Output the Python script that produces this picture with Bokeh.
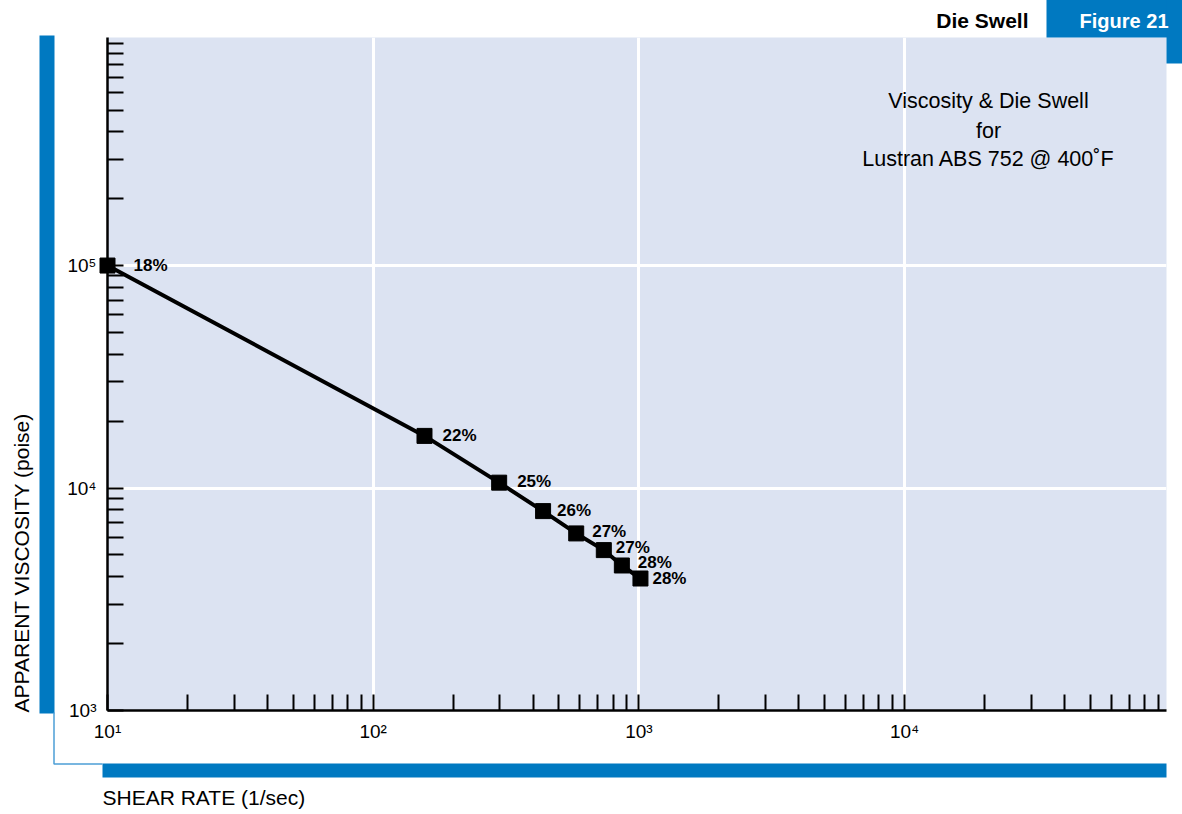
import math
from bokeh.plotting import figure
from bokeh.models import (FixedTicker, Range1d, LabelSet, ColumnDataSource, LinearScale)
from bokeh.core.properties import value
from bokeh.embed import file_html
from bokeh.resources import INLINE

# ---------------- data ----------------
shear_rate = [10, 156, 298, 436, 581, 738, 863, 1014]          # 1/sec
viscosity = [100000, 17150, 10570, 7875, 6250, 5260, 4485, 3920]  # poise
die_swell = ["18%", "22%", "25%", "26%", "27%", "27%", "28%", "28%"]

x_major = [10, 100, 1000, 10000]
x_tick_labels = ["10¹", "10²", "10³", "10⁴"]
y_major = [1000, 10000, 100000]
y_tick_labels = ["10³", "10⁴", "10⁵"]
x_grid = [100, 1000, 10000]
y_grid = [10000, 100000]

# ---------------- layout / style ----------------
BLUE = "#0079C1"
LIGHT_BLUE = "#4C9FD6"
BG = "#DCE3F2"
FONT = "Liberation Sans"
W, H = 1182, 814
FL, FR, FT, FB = 107, 1166, 37, 710   # frame edges in page pixels

label_dx = [26, 18, 18, 14, 16, 12, 16, 12]
label_dy = [0, 0, 1, 1, 1.5, 3, 2.5, 0.5]

p = figure(width=W, height=H, x_axis_type="log", y_axis_type="log",
           x_range=Range1d(10, 10 ** 4.986), y_range=Range1d(1000, 10 ** 6.025),
           output_backend="svg", toolbar_location=None,
           min_border_left=FL, min_border_right=W - FR, min_border_top=FT,
           min_border_bottom=H - FB,
           background_fill_color=BG, border_fill_color="white",
           outline_line_color=None)

# a pixel coordinate system for the page decorations
p.extra_x_ranges = {"px": Range1d(FL, FR)}
p.extra_y_ranges = {"py": Range1d(FB, FT)}
p.extra_x_scales = {"px": LinearScale()}
p.extra_y_scales = {"py": LinearScale()}
PX = dict(x_range_name="px", y_range_name="py", level="overlay")

x_minor = [m * d for d in (10, 100, 1000, 10000) for m in range(2, 10)]
y_minor = [m * d for d in (1000, 10000, 100000) for m in range(2, 10)] + [1000000]

p.xaxis.ticker = FixedTicker(ticks=x_major, minor_ticks=x_minor)
p.yaxis.ticker = FixedTicker(ticks=y_major, minor_ticks=y_minor)
xo = {}
for t, s in zip(x_major, x_tick_labels):
    xo[t] = s
    xo[str(t)] = s
yo = {}
for t, s in zip(y_major, y_tick_labels):
    yo[t] = s
    yo[str(t)] = s
p.xaxis.major_label_overrides = xo
p.yaxis.major_label_overrides = yo

for ax in (p.xaxis[0], p.yaxis[0]):
    ax.major_tick_in = 16
    ax.major_tick_out = 0
    ax.minor_tick_in = 16
    ax.minor_tick_out = 0
    ax.major_tick_line_width = 2
    ax.minor_tick_line_width = 2
    ax.major_tick_line_color = "black"
    ax.minor_tick_line_color = "black"
    ax.axis_line_width = 2.5
    ax.axis_line_color = "black"
    ax.major_label_text_font = FONT
    ax.major_label_text_font_size = "19px"
    ax.major_label_text_color = "black"
p.xaxis.major_label_standoff = 10
p.yaxis.major_label_standoff = 11

p.xgrid.ticker = FixedTicker(ticks=x_grid)
p.ygrid.ticker = FixedTicker(ticks=y_grid)
p.grid.grid_line_color = "white"
p.grid.grid_line_width = 3
p.grid.grid_line_alpha = 1

src = ColumnDataSource(dict(x=shear_rate, y=viscosity, t=die_swell,
                            dx=label_dx, dy=label_dy))
p.line("x", "y", source=src, line_width=4, line_color="black")
p.scatter("x", "y", source=src, marker="square", size=15,
          fill_color="black", line_color="black", level="overlay")
p.add_layout(LabelSet(x="x", y="y", text="t", source=src, x_offset="dx",
                      y_offset="dy", text_font=value(FONT),
                      text_font_style="bold", text_font_size="17px",
                      text_color="black", text_align="left",
                      text_baseline="middle"))

# ------------- page decorations (pixel coordinates) -------------
def box(x0, x1, y0, y1, color):
    p.quad(left=[x0], right=[x1], top=[y0], bottom=[y1], fill_color=color,
           line_color=None, **PX)


box(39, 54, 35, 713, BLUE)
box(102, 1166, 763, 777, BLUE)
box(1046, 1182, -5, 37, BLUE)
box(1166, 1182, -5, 63, BLUE)
p.line(x=[53.5, 53.5, 102], y=[712, 763.5, 763.5], line_color=LIGHT_BLUE,
       line_width=1.5, **PX)


def text(X, Y, s, size, align="left", bold=False, color="black", angle=0.0):
    p.text(x=[X], y=[Y], text=[s], text_font=value(FONT), text_font_size=size,
           text_font_style="bold" if bold else "normal", text_color=color,
           text_align=align, text_baseline="middle", angle=angle, **PX)


text(1028, 20, "Die Swell", "21px", align="right", bold=True)
text(1168, 20, "Figure 21", "20px", align="right", bold=True, color="white")
text(988, 100, "Viscosity & Die Swell", "21.5px", align="center")
text(988, 130, "for", "21.5px", align="center")
text(988, 158, "Lustran ABS 752 @ 400˚F", "21.5px", align="center")
text(102, 797, "SHEAR RATE (1/sec)", "21px", align="left")
text(21, 712, "APPARENT VISCOSITY (poise)", "21px", align="left", angle=math.pi / 2)

open("out.html", "w").write(file_html(p, INLINE))
